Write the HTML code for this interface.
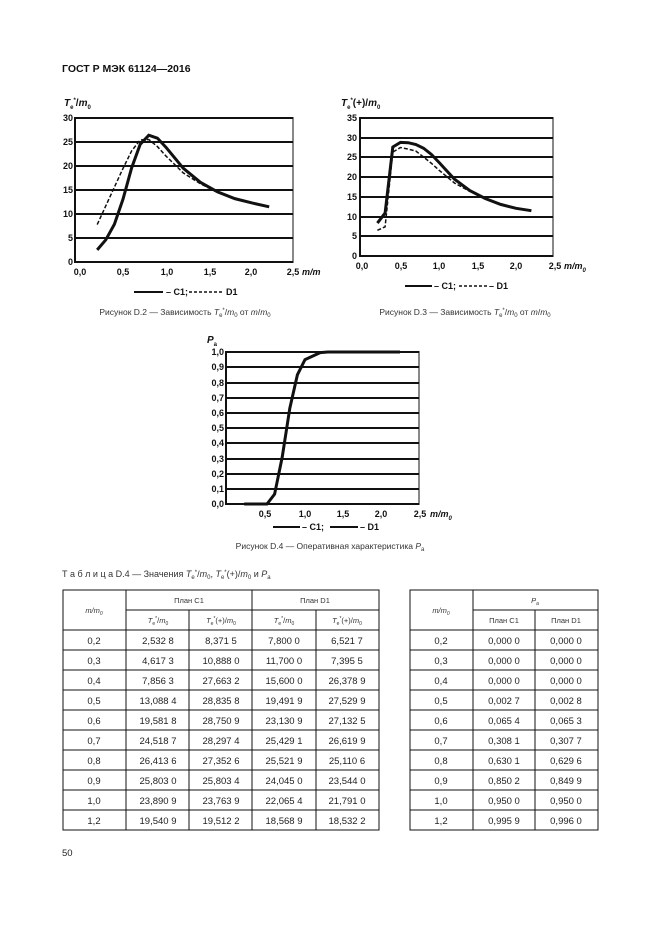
<!DOCTYPE html>
<html><head><meta charset="utf-8"><style>
html,body{margin:0;padding:0;background:#fff;}
svg{display:block;font-family:"Liberation Sans",Arial,sans-serif;}
.t{font-size:9px;font-weight:bold;fill:#111}
.c{font-size:8.5px;fill:#333}
.d{font-size:9.5px;fill:#222}
.g{stroke:#111;stroke-width:2}
.cv{fill:none;stroke:#111;vector-effect:non-scaling-stroke}
</style></head><body>
<svg width="661" height="935" viewBox="0 0 661 935">
<text x="62" y="72" style="font-size:10.5px;font-weight:bold" fill="#111">ГОСТ Р МЭК 61124—2016</text>

<!-- Chart D.2 -->
<g>
<text x="64" y="106" class="t" style="font-size:10px"><tspan font-style="italic">T</tspan><tspan dy="3" font-size="6">e</tspan><tspan dy="-7" font-size="6">*</tspan><tspan dy="4">/</tspan><tspan font-style="italic">m</tspan><tspan dy="3" font-size="6">0</tspan></text>
<line x1="75" y1="118" x2="293" y2="118" class="g"/>
<line x1="75" y1="142" x2="293" y2="142" class="g"/>
<line x1="75" y1="166" x2="293" y2="166" class="g"/>
<line x1="75" y1="190" x2="293" y2="190" class="g"/>
<line x1="75" y1="214" x2="293" y2="214" class="g"/>
<line x1="75" y1="238" x2="293" y2="238" class="g"/>
<line x1="75" y1="262" x2="293" y2="262" class="g"/>
<line x1="75" y1="117" x2="75" y2="263" class="g"/>
<line x1="293" y1="117" x2="293" y2="263" stroke="#111" stroke-width="1"/>
<g class="t" text-anchor="end">
<text x="73" y="121">30</text><text x="73" y="145">25</text><text x="73" y="169">20</text><text x="73" y="193">15</text><text x="73" y="217">10</text><text x="73" y="241">5</text><text x="73" y="265">0</text></g>
<g class="t" text-anchor="middle">
<text x="80" y="275">0,0</text><text x="123" y="275">0,5</text><text x="167" y="275">1,0</text><text x="210" y="275">1,5</text><text x="251" y="275">2,0</text><text x="293" y="275">2,5</text></g>
<text x="302" y="275" class="t" font-style="italic">m/m</text>
<g transform="translate(80,262) scale(86,-4.8)">
<path class="cv" stroke-width="3" d="M0.2,2.53 L0.3,4.62 L0.4,7.86 L0.5,13.09 L0.6,19.58 L0.7,24.52 L0.8,26.41 L0.9,25.8 L1.0,23.89 L1.2,19.54 L1.4,16.6 L1.6,14.6 L1.8,13.2 L2.0,12.3 L2.2,11.5"/>
<path class="cv" stroke-width="1.5" stroke-dasharray="4,2" d="M0.2,7.8 L0.3,11.7 L0.4,15.6 L0.5,19.49 L0.6,23.13 L0.7,25.43 L0.8,25.52 L0.9,24.05 L1.0,22.07 L1.2,18.57 L1.4,16.3 L1.6,14.5"/>
</g>
<line x1="134" y1="292" x2="163" y2="292" stroke="#111" stroke-width="2"/>
<text x="166" y="295" class="t">– C1;</text>
<line x1="189" y1="292" x2="224" y2="292" stroke="#111" stroke-width="1.5" stroke-dasharray="3,2"/>
<text x="226" y="295" class="t">D1</text>
<text x="185" y="315" class="c" text-anchor="middle">Рисунок D.2 — Зависимость <tspan font-style="italic">T</tspan><tspan font-size="6" dy="2">e</tspan><tspan font-size="6" dy="-5">*</tspan><tspan dy="3">/</tspan><tspan font-style="italic">m</tspan><tspan font-size="6" dy="2">0</tspan><tspan dy="-2"> от </tspan><tspan font-style="italic">m</tspan>/<tspan font-style="italic">m</tspan><tspan font-size="6" dy="2">0</tspan></text>
</g>

<!-- Chart D.3 -->
<g>
<text x="341" y="106" class="t" style="font-size:10px"><tspan font-style="italic">T</tspan><tspan dy="3" font-size="6">e</tspan><tspan dy="-7" font-size="6">*</tspan><tspan dy="4">(+)/</tspan><tspan font-style="italic">m</tspan><tspan dy="3" font-size="6">0</tspan></text>
<line x1="360" y1="118" x2="553" y2="118" class="g"/>
<line x1="360" y1="138" x2="553" y2="138" class="g"/>
<line x1="360" y1="157" x2="553" y2="157" class="g"/>
<line x1="360" y1="177" x2="553" y2="177" class="g"/>
<line x1="360" y1="197" x2="553" y2="197" class="g"/>
<line x1="360" y1="217" x2="553" y2="217" class="g"/>
<line x1="360" y1="236" x2="553" y2="236" class="g"/>
<line x1="360" y1="256" x2="553" y2="256" class="g"/>
<line x1="360" y1="117" x2="360" y2="257" class="g"/>
<line x1="553" y1="117" x2="553" y2="257" stroke="#111" stroke-width="1"/>
<g class="t" text-anchor="end">
<text x="357" y="121">35</text><text x="357" y="141">30</text><text x="357" y="160">25</text><text x="357" y="180">20</text><text x="357" y="200">15</text><text x="357" y="220">10</text><text x="357" y="239">5</text><text x="357" y="259">0</text></g>
<g class="t" text-anchor="middle">
<text x="362" y="269">0,0</text><text x="401" y="269">0,5</text><text x="439" y="269">1,0</text><text x="478" y="269">1,5</text><text x="516" y="269">2,0</text><text x="555" y="269">2,5</text></g>
<text x="564" y="269" class="t" font-style="italic">m/m<tspan font-size="6" dy="3">0</tspan></text>
<g transform="translate(362,256) scale(77,-3.94)">
<path class="cv" stroke-width="3" d="M0.2,8.37 L0.3,10.89 L0.4,27.66 L0.5,28.84 L0.6,28.75 L0.7,28.3 L0.8,27.35 L0.9,25.8 L1.0,23.76 L1.2,19.51 L1.4,16.6 L1.6,14.6 L1.8,13.1 L2.0,12.1 L2.2,11.5"/>
<path class="cv" stroke-width="1.5" stroke-dasharray="4,2" d="M0.2,6.52 L0.3,7.4 L0.4,26.38 L0.5,27.53 L0.6,27.13 L0.7,26.62 L0.8,25.11 L0.9,23.54 L1.0,21.79 L1.2,18.53 L1.4,16.4"/>
</g>
<line x1="405" y1="286" x2="432" y2="286" stroke="#111" stroke-width="2"/>
<text x="434" y="289" class="t">– C1;</text>
<line x1="459" y1="286" x2="487" y2="286" stroke="#111" stroke-width="1.5" stroke-dasharray="3,2"/>
<text x="489" y="289" class="t">– D1</text>
<text x="465" y="315" class="c" text-anchor="middle">Рисунок D.3 — Зависимость <tspan font-style="italic">T</tspan><tspan font-size="6" dy="2">e</tspan><tspan font-size="6" dy="-5">*</tspan><tspan dy="3">/</tspan><tspan font-style="italic">m</tspan><tspan font-size="6" dy="2">0</tspan><tspan dy="-2"> от </tspan><tspan font-style="italic">m</tspan>/<tspan font-style="italic">m</tspan><tspan font-size="6" dy="2">0</tspan></text>
</g>

<!-- Chart D.4 -->
<g>
<text x="207" y="343" class="t" style="font-size:10px"><tspan font-style="italic">P</tspan><tspan dy="3" font-size="6">a</tspan></text>
<g class="g">
<line x1="226" y1="352" x2="419" y2="352"/><line x1="226" y1="367" x2="419" y2="367"/><line x1="226" y1="383" x2="419" y2="383"/><line x1="226" y1="398" x2="419" y2="398"/><line x1="226" y1="413" x2="419" y2="413"/><line x1="226" y1="428" x2="419" y2="428"/><line x1="226" y1="443" x2="419" y2="443"/><line x1="226" y1="459" x2="419" y2="459"/><line x1="226" y1="474" x2="419" y2="474"/><line x1="226" y1="489" x2="419" y2="489"/><line x1="226" y1="504" x2="419" y2="504"/>
<line x1="226" y1="351" x2="226" y2="505"/></g>
<line x1="419" y1="351" x2="419" y2="505" stroke="#111" stroke-width="1"/>
<g class="t" text-anchor="end">
<text x="224" y="355">1,0</text><text x="224" y="370">0,9</text><text x="224" y="386">0,8</text><text x="224" y="401">0,7</text><text x="224" y="416">0,6</text><text x="224" y="431">0,5</text><text x="224" y="446">0,4</text><text x="224" y="462">0,3</text><text x="224" y="477">0,2</text><text x="224" y="492">0,1</text><text x="224" y="507">0,0</text></g>
<g class="t" text-anchor="middle">
<text x="265" y="517">0,5</text><text x="305" y="517">1,0</text><text x="343" y="517">1,5</text><text x="381" y="517">2,0</text><text x="420" y="517">2,5</text></g>
<text x="430" y="517" class="t" font-style="italic">m/m<tspan font-size="6" dy="3">0</tspan></text>
<g transform="translate(229,504) scale(76,-152)">
<path class="cv" stroke-width="3" d="M0.2,0 L0.5,0 L0.6,0.065 L0.7,0.308 L0.8,0.63 L0.9,0.85 L1.0,0.95 L1.2,0.996 L1.3,1 L2.25,1"/>
</g>
<line x1="273" y1="527" x2="300" y2="527" stroke="#111" stroke-width="2"/>
<text x="302" y="530" class="t">– C1;</text>
<line x1="330" y1="527" x2="358" y2="527" stroke="#111" stroke-width="2"/>
<text x="360" y="530" class="t">– D1</text>
<text x="330" y="549" class="c" text-anchor="middle">Рисунок D.4 — Оперативная характеристика <tspan font-style="italic">P</tspan><tspan font-size="6" dy="2">a</tspan></text>
</g>

<!-- Table caption -->
<text x="62" y="577" class="c" style="font-size:9px">Т а б л и ц а  D.4 — Значения <tspan font-style="italic">T</tspan><tspan font-size="6" dy="2">e</tspan><tspan font-size="6" dy="-5">*</tspan><tspan dy="3">/</tspan><tspan font-style="italic">m</tspan><tspan font-size="6" dy="2">0</tspan><tspan dy="-2">, </tspan><tspan font-style="italic">T</tspan><tspan font-size="6" dy="2">e</tspan><tspan font-size="6" dy="-5">*</tspan><tspan dy="3">(+)/</tspan><tspan font-style="italic">m</tspan><tspan font-size="6" dy="2">0</tspan><tspan dy="-2"> и </tspan><tspan font-style="italic">P</tspan><tspan font-size="6" dy="2">a</tspan></text>

<!-- Table grid -->
<g stroke="#111" stroke-width="1" fill="none">
<rect x="63" y="590" width="316" height="240"/>
<rect x="410" y="590" width="188" height="240"/>
<line x1="126" y1="590" x2="126" y2="830"/><line x1="189" y1="610" x2="189" y2="830"/><line x1="252" y1="590" x2="252" y2="830"/><line x1="316" y1="610" x2="316" y2="830"/>
<line x1="473" y1="590" x2="473" y2="830"/><line x1="535" y1="610" x2="535" y2="830"/>
<line x1="126" y1="610" x2="379" y2="610"/><line x1="473" y1="610" x2="598" y2="610"/>
<line x1="63" y1="630" x2="379" y2="630"/><line x1="410" y1="630" x2="598" y2="630"/>
<line x1="63" y1="650" x2="379" y2="650"/><line x1="410" y1="650" x2="598" y2="650"/>
<line x1="63" y1="670" x2="379" y2="670"/><line x1="410" y1="670" x2="598" y2="670"/>
<line x1="63" y1="690" x2="379" y2="690"/><line x1="410" y1="690" x2="598" y2="690"/>
<line x1="63" y1="710" x2="379" y2="710"/><line x1="410" y1="710" x2="598" y2="710"/>
<line x1="63" y1="730" x2="379" y2="730"/><line x1="410" y1="730" x2="598" y2="730"/>
<line x1="63" y1="750" x2="379" y2="750"/><line x1="410" y1="750" x2="598" y2="750"/>
<line x1="63" y1="770" x2="379" y2="770"/><line x1="410" y1="770" x2="598" y2="770"/>
<line x1="63" y1="790" x2="379" y2="790"/><line x1="410" y1="790" x2="598" y2="790"/>
<line x1="63" y1="810" x2="379" y2="810"/><line x1="410" y1="810" x2="598" y2="810"/>
</g>
<g class="c" text-anchor="middle" style="font-size:7.5px">
<text x="94" y="613" font-style="italic">m/m<tspan font-size="5" dy="2">0</tspan></text>
<text x="189" y="603">План C1</text><text x="315" y="603">План D1</text>
<text x="158" y="623"><tspan font-style="italic">T</tspan><tspan font-size="5" dy="2">e</tspan><tspan font-size="5" dy="-5">*</tspan><tspan dy="3">/</tspan><tspan font-style="italic">m</tspan><tspan font-size="5" dy="2">0</tspan></text>
<text x="221" y="623"><tspan font-style="italic">T</tspan><tspan font-size="5" dy="2">e</tspan><tspan font-size="5" dy="-5">*</tspan><tspan dy="3">(+)/</tspan><tspan font-style="italic">m</tspan><tspan font-size="5" dy="2">0</tspan></text>
<text x="284" y="623"><tspan font-style="italic">T</tspan><tspan font-size="5" dy="2">e</tspan><tspan font-size="5" dy="-5">*</tspan><tspan dy="3">/</tspan><tspan font-style="italic">m</tspan><tspan font-size="5" dy="2">0</tspan></text>
<text x="347" y="623"><tspan font-style="italic">T</tspan><tspan font-size="5" dy="2">e</tspan><tspan font-size="5" dy="-5">*</tspan><tspan dy="3">(+)/</tspan><tspan font-style="italic">m</tspan><tspan font-size="5" dy="2">0</tspan></text>
<text x="441" y="613" font-style="italic">m/m<tspan font-size="5" dy="2">0</tspan></text>
<text x="535" y="603" font-style="italic">P<tspan font-size="5" dy="2">a</tspan></text>
<text x="504" y="623">План C1</text><text x="566" y="623">План D1</text>
</g>
<g class="d" text-anchor="middle">
<text x="94" y="644">0,2</text><text x="158" y="644">2,532 8</text><text x="221" y="644">8,371 5</text><text x="284" y="644">7,800 0</text><text x="347" y="644">6,521 7</text><text x="441" y="644">0,2</text><text x="504" y="644">0,000 0</text><text x="566" y="644">0,000 0</text>
<text x="94" y="664">0,3</text><text x="158" y="664">4,617 3</text><text x="221" y="664">10,888 0</text><text x="284" y="664">11,700 0</text><text x="347" y="664">7,395 5</text><text x="441" y="664">0,3</text><text x="504" y="664">0,000 0</text><text x="566" y="664">0,000 0</text>
<text x="94" y="684">0,4</text><text x="158" y="684">7,856 3</text><text x="221" y="684">27,663 2</text><text x="284" y="684">15,600 0</text><text x="347" y="684">26,378 9</text><text x="441" y="684">0,4</text><text x="504" y="684">0,000 0</text><text x="566" y="684">0,000 0</text>
<text x="94" y="704">0,5</text><text x="158" y="704">13,088 4</text><text x="221" y="704">28,835 8</text><text x="284" y="704">19,491 9</text><text x="347" y="704">27,529 9</text><text x="441" y="704">0,5</text><text x="504" y="704">0,002 7</text><text x="566" y="704">0,002 8</text>
<text x="94" y="724">0,6</text><text x="158" y="724">19,581 8</text><text x="221" y="724">28,750 9</text><text x="284" y="724">23,130 9</text><text x="347" y="724">27,132 5</text><text x="441" y="724">0,6</text><text x="504" y="724">0,065 4</text><text x="566" y="724">0,065 3</text>
<text x="94" y="744">0,7</text><text x="158" y="744">24,518 7</text><text x="221" y="744">28,297 4</text><text x="284" y="744">25,429 1</text><text x="347" y="744">26,619 9</text><text x="441" y="744">0,7</text><text x="504" y="744">0,308 1</text><text x="566" y="744">0,307 7</text>
<text x="94" y="764">0,8</text><text x="158" y="764">26,413 6</text><text x="221" y="764">27,352 6</text><text x="284" y="764">25,521 9</text><text x="347" y="764">25,110 6</text><text x="441" y="764">0,8</text><text x="504" y="764">0,630 1</text><text x="566" y="764">0,629 6</text>
<text x="94" y="784">0,9</text><text x="158" y="784">25,803 0</text><text x="221" y="784">25,803 4</text><text x="284" y="784">24,045 0</text><text x="347" y="784">23,544 0</text><text x="441" y="784">0,9</text><text x="504" y="784">0,850 2</text><text x="566" y="784">0,849 9</text>
<text x="94" y="804">1,0</text><text x="158" y="804">23,890 9</text><text x="221" y="804">23,763 9</text><text x="284" y="804">22,065 4</text><text x="347" y="804">21,791 0</text><text x="441" y="804">1,0</text><text x="504" y="804">0,950 0</text><text x="566" y="804">0,950 0</text>
<text x="94" y="824">1,2</text><text x="158" y="824">19,540 9</text><text x="221" y="824">19,512 2</text><text x="284" y="824">18,568 9</text><text x="347" y="824">18,532 2</text><text x="441" y="824">1,2</text><text x="504" y="824">0,995 9</text><text x="566" y="824">0,996 0</text>
</g>
<text x="62" y="856" class="d">50</text>
</svg>
</body></html>
